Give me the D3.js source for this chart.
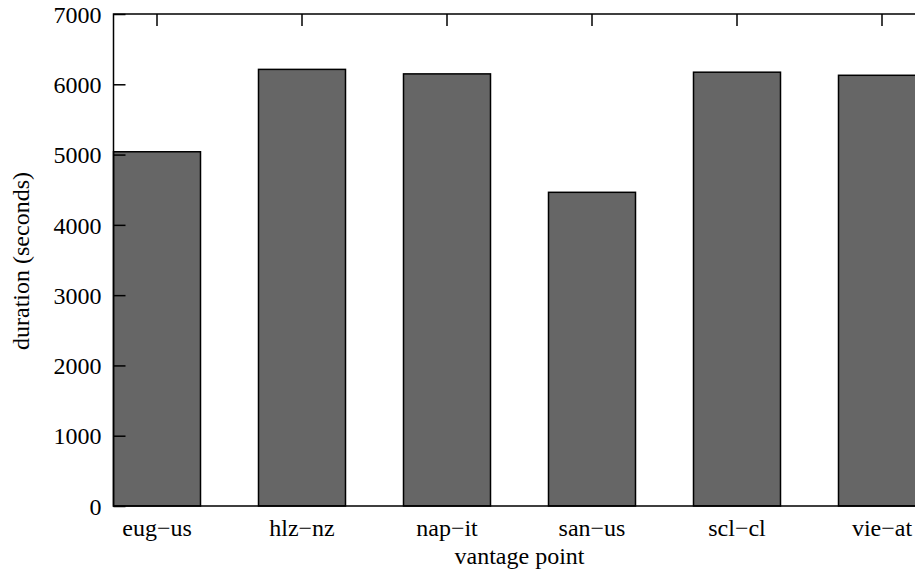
<!DOCTYPE html>
<html>
<head>
<meta charset="utf-8">
<script src="https://cdn.jsdelivr.net/npm/d3@7"></script>
<style>
html,body{margin:0;padding:0;background:#fff;}
svg{display:block;}
svg text{font-family:"Liberation Serif","Times New Roman",serif !important;fill:#000;}
</style>
</head>
<body>
<svg id="chart" width="915" height="574"></svg>
<script>
const categories = ["eug\u2212us", "hlz\u2212nz", "nap\u2212it", "san\u2212us", "scl\u2212cl", "vie\u2212at"];
const durations = [5040, 6212, 6148, 4463, 6172, 6128];
const yTicks = [0, 1000, 2000, 3000, 4000, 5000, 6000, 7000];
const xLabel = "vantage point";
const yLabel = "duration (seconds)";

const svg = d3.select("#chart");
const pL = 113.5, pT = 14, pB = 506, pR = 925.5;
const fs = 24;
const serif = "Liberation Serif, Times New Roman, serif";

const x = d3.scaleBand().domain(categories).range([pL, pR]).paddingInner(0.4).paddingOuter(0);
const y = d3.scaleLinear().domain([0, 7000]).range([pB, pT]);

// bars
svg.append("g").selectAll("rect").data(categories).join("rect")
  .attr("x", d => x(d))
  .attr("y", (d, i) => y(durations[i]))
  .attr("width", x.bandwidth())
  .attr("height", (d, i) => y(0) - y(durations[i]))
  .attr("fill", "#666666")
  .attr("stroke", "#000")
  .attr("stroke-width", 1.5);

// y axis (ticks inward)
const yAxis = d3.axisLeft(y).tickValues(yTicks).tickFormat(d3.format("d"))
  .tickSizeInner(-12).tickSizeOuter(0).tickPadding(12);
const gy = svg.append("g").attr("transform", `translate(${pL},0)`).call(yAxis)
  .attr("font-family", serif).attr("font-size", fs);
gy.select(".domain").remove();
gy.selectAll("line").attr("stroke", "#000").attr("stroke-width", 1.5);
gy.selectAll("text").attr("dy", "0.34em");

// top mirrored x ticks
const xTop = d3.axisTop(x).tickSizeInner(-12).tickSizeOuter(0).tickFormat("");
const gxt = svg.append("g").attr("transform", `translate(0,${pT})`).call(xTop);
gxt.select(".domain").remove();
gxt.selectAll("line").attr("stroke", "#000").attr("stroke-width", 1.5);

// bottom x tick labels
const xBottom = d3.axisBottom(x).tickSize(0).tickPadding(0);
const gxb = svg.append("g").attr("transform", `translate(0,${pB})`).call(xBottom)
  .attr("font-family", serif).attr("font-size", fs);
gxb.select(".domain").remove();
gxb.selectAll("text").attr("dy", null).attr("y", 30);

// border
svg.append("path")
  .attr("d", `M${pR},${pT}H${pL}V${pB}H${pR}`)
  .attr("fill", "none").attr("stroke", "#000").attr("stroke-width", 1.5);

// axis labels
svg.append("text").attr("x", (pL + pR) / 2).attr("y", 564).attr("text-anchor", "middle")
  .attr("font-family", serif).attr("font-size", fs).text(xLabel);
svg.append("text").attr("transform", "translate(29,261) rotate(-90)").attr("text-anchor", "middle")
  .attr("font-family", serif).attr("font-size", fs).text(yLabel);
</script>
</body>
</html>
